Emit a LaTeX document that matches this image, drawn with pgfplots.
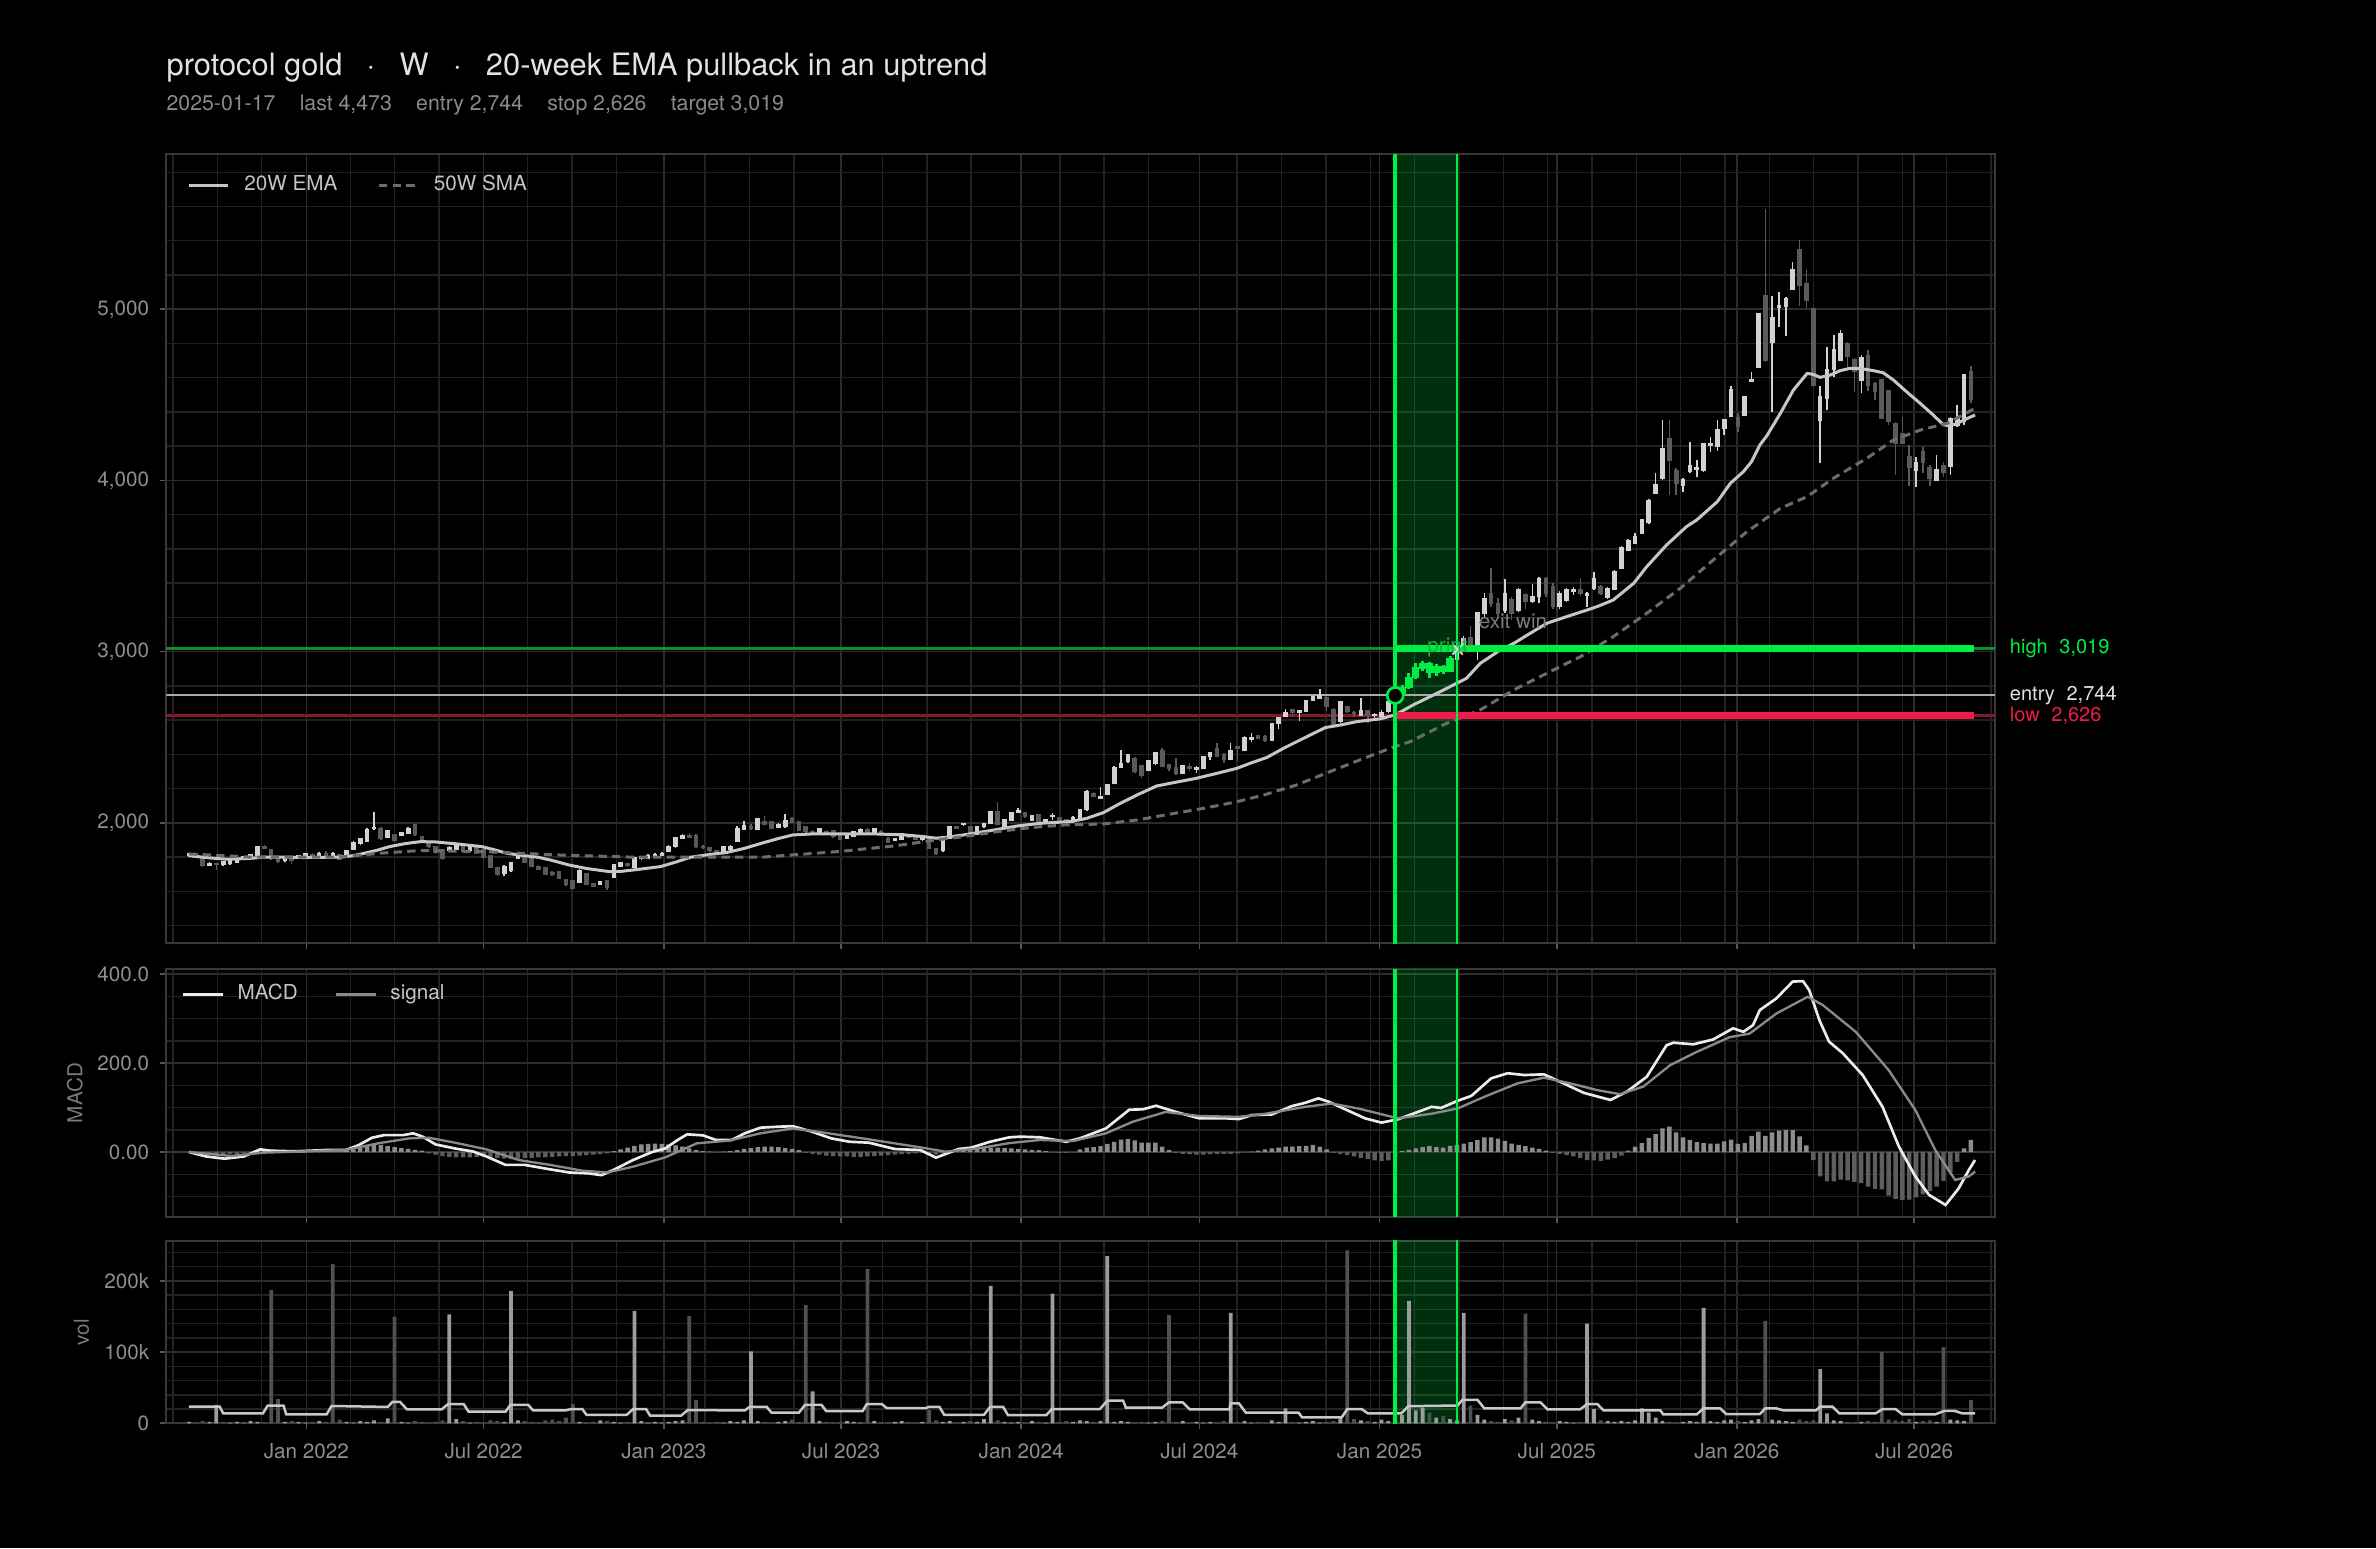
\documentclass[border=0pt]{standalone}
\usepackage{fontspec}
\setmainfont{TeX Gyre Heros}
\usepackage{pgfplots}
\pgfplotsset{compat=1.18}
\usepackage{pgfplotstable}
\definecolor{framec}{HTML}{383838}
\definecolor{gridmaj}{HTML}{2C2C2C}
\definecolor{gridmin}{HTML}{222222}
\definecolor{tickc}{HTML}{555555}
\definecolor{labc}{HTML}{8E8E8E}
\definecolor{titc}{HTML}{E2E2E2}
\definecolor{subc}{HTML}{8A8A8A}
\definecolor{legc}{HTML}{C4C4C4}
\definecolor{upc}{HTML}{D2D2D2}
\definecolor{dnc}{HTML}{5A5A5A}
\definecolor{emac}{HTML}{C6C6C6}
\definecolor{smac}{HTML}{6C6C6C}
\definecolor{grn}{HTML}{00EE44}
\definecolor{grnthin}{HTML}{0C8F2C}
\definecolor{redc}{HTML}{F01A48}
\definecolor{redthin}{HTML}{8C1428}
\definecolor{entc}{HTML}{AAAAAA}
\definecolor{printc}{HTML}{18B040}
\definecolor{exitc}{HTML}{7A7A7A}
\definecolor{macdc}{HTML}{EBEBEB}
\definecolor{sigc}{HTML}{8A8A8A}
\definecolor{histp}{HTML}{8C8C8C}
\definecolor{histn}{HTML}{5E5E5E}
\definecolor{volup}{HTML}{9C9C9C}
\definecolor{voldn}{HTML}{505050}
\definecolor{volma}{HTML}{C8C8C8}
\definecolor{ylabc}{HTML}{7A7A7A}

\pgfplotsset{
  wickp/.style 2 args={forget plot, mark=none, draw=#1, line width=#2, -,
    quiver={u=0, v={\thisrow{h}-\thisrow{l}}, every arrow/.append style={draw=#1, line width=#2, -}}},
  bodyp/.style 2 args={forget plot, mark=none, draw=#1, line width=#2, -,
    quiver={u=0, v={abs(\thisrow{c}-\thisrow{o})+8}, every arrow/.append style={draw=#1, line width=#2, -}}},
  base/.style={
    scale only axis, width=548.58pt, xmin=-21.3, xmax=245.5,
    axis background/.style={fill=black},
    axis line style={draw=framec, line width=0.5pt},
    grid=both,
    major grid style={draw=gridmaj, line width=0.45pt},
    minor grid style={draw=gridmin, line width=0.45pt},
    xtick={-0.857,25,51.29,77.14,103.43,129.43,155.71,181.57,207.86,233.71},
    minor xtick={-20.33,-13.86,-7.39,5.55,12.02,18.49,31.43,37.90,44.37,57.31,63.78,70.25,83.19,89.66,96.13,109.07,115.54,122.01,134.95,141.42,147.89,154.36,160.83,167.30,173.77,180.24,186.71,193.18,199.65,206.12,212.59,219.06,225.53,232.00,238.47,244.94},
    tick align=outside, major tick length=1.8pt, minor tick length=0pt,
    tick style={draw=tickc, line width=0.5pt},
    xtick pos=left, ytick pos=left,
    /pgf/number format/assume math mode=true,
    ticklabel style={font=\fontsize{6.2}{7}\selectfont, text=labc},
    yticklabel style={xshift=0.2pt},
    xticklabel style={yshift=-0.6pt},
    every axis y label/.style={at={(axis description cs:-0.05,0.5)}, rotate=90, anchor=center, font=\fontsize{6.2}{7}\selectfont, text=ylabc},
    clip mode=individual,
  },
}

\pgfplotstableread[row sep=\\]{w o h l c u\\
-18 1808 1826 1800 1818 1\\ -17 1818 1822 1795 1800 0\\ -16 1795 1800 1742 1750 0\\ -15 1752 1770 1745 1762 1\\
-14 1762 1768 1722 1756 0\\ -13 1756 1775 1750 1770 1\\ -12 1762 1790 1752 1778 1\\ -11 1772 1800 1765 1795 1\\
-10 1793 1808 1785 1800 1\\ -9 1790 1818 1785 1812 1\\ -8 1812 1865 1808 1860 1\\ -7 1860 1872 1845 1852 0\\
-6 1840 1845 1785 1790 0\\ -5 1790 1800 1768 1775 0\\ -4 1778 1798 1770 1792 1\\ -3 1795 1803 1760 1780 0\\
-2 1795 1810 1790 1805 1\\ -1 1803 1825 1798 1820 1\\ 0 1815 1825 1800 1805 0\\ 1 1800 1828 1795 1818 1\\
2 1820 1835 1805 1810 0\\ 3 1808 1830 1800 1822 1\\ 4 1815 1820 1782 1788 0\\ 5 1800 1842 1795 1838 1\\
6 1845 1892 1840 1885 1\\ 7 1880 1912 1870 1908 1\\ 8 1890 1968 1885 1958 1\\ 9 1965 2065 1955 1972 1\\
10 1968 1975 1900 1910 0\\ 11 1918 1960 1912 1952 1\\ 12 1930 1935 1890 1900 0\\ 13 1925 1948 1920 1940 1\\
14 1940 1975 1935 1968 1\\ 15 1988 1995 1925 1930 0\\ 16 1918 1925 1880 1890 0\\ 17 1890 1895 1855 1862 0\\
18 1860 1865 1820 1825 0\\ 19 1840 1845 1785 1790 0\\ 20 1842 1862 1836 1855 1\\ 21 1845 1872 1840 1865 1\\
22 1860 1870 1830 1835 0\\ 23 1840 1868 1830 1860 1\\ 24 1858 1862 1815 1822 0\\ 25 1840 1845 1790 1800 0\\
26 1805 1810 1735 1740 0\\ 27 1735 1740 1690 1700 0\\ 28 1705 1755 1690 1745 1\\ 29 1720 1770 1715 1765 1\\
30 1795 1830 1790 1822 1\\ 31 1805 1810 1765 1770 0\\ 32 1790 1795 1740 1745 0\\ 33 1745 1752 1722 1730 0\\
34 1735 1740 1695 1700 0\\ 35 1710 1718 1690 1698 0\\ 36 1715 1720 1670 1678 0\\ 37 1665 1672 1632 1640 0\\
38 1660 1665 1610 1618 0\\ 39 1655 1730 1650 1722 1\\ 40 1700 1705 1635 1640 0\\ 41 1645 1650 1622 1630 0\\
42 1640 1662 1635 1657 1\\ 43 1660 1665 1605 1625 0\\ 44 1680 1760 1675 1755 1\\ 45 1748 1772 1740 1765 1\\
46 1760 1768 1742 1750 0\\ 47 1740 1800 1735 1795 1\\ 48 1790 1808 1780 1800 1\\ 49 1795 1815 1788 1805 1\\
50 1808 1825 1800 1815 1\\ 51 1812 1828 1805 1820 1\\ 52 1835 1868 1830 1862 1\\ 53 1860 1918 1855 1912 1\\
54 1910 1932 1905 1925 1\\ 55 1925 1940 1910 1918 0\\ 56 1922 1932 1855 1862 0\\ 57 1860 1868 1848 1858 0\\
58 1852 1858 1832 1838 0\\ 59 1835 1840 1815 1822 0\\ 60 1822 1865 1815 1860 1\\ 61 1845 1870 1840 1862 1\\
62 1890 1980 1885 1968 1\\ 63 1960 2010 1955 1985 1\\ 64 1980 1990 1958 1965 0\\ 65 1960 2030 1955 2025 1\\
66 2005 2040 1985 1990 0\\ 67 2005 2010 1962 1968 0\\ 68 1975 1998 1968 1990 1\\ 69 1978 2050 1972 2015 1\\
70 2025 2035 2000 2005 0\\ 71 2005 2010 1950 1958 0\\ 72 1975 1980 1942 1950 0\\ 73 1948 1955 1935 1940 0\\
74 1942 1970 1935 1965 1\\ 75 1950 1955 1940 1945 0\\ 76 1955 1960 1910 1920 0\\ 77 1925 1930 1900 1905 0\\
78 1910 1930 1905 1925 1\\ 79 1920 1952 1915 1948 1\\ 80 1945 1968 1940 1962 1\\ 81 1960 1968 1938 1945 0\\
82 1940 1972 1935 1965 1\\ 83 1950 1955 1925 1935 0\\ 84 1910 1915 1880 1885 0\\ 85 1900 1910 1895 1905 1\\
86 1905 1940 1900 1935 1\\ 87 1930 1935 1910 1915 0\\ 88 1915 1922 1898 1905 0\\ 89 1902 1930 1895 1925 1\\
90 1910 1915 1845 1850 0\\ 91 1850 1855 1812 1822 0\\ 92 1837 1925 1830 1919 1\\ 93 1910 1982 1905 1977 1\\
94 1977 1980 1962 1968 0\\ 95 1992 2001 1980 1996 1\\ 96 1977 1980 1935 1938 0\\ 97 1935 1980 1930 1977 1\\
98 1977 2001 1972 1997 1\\ 99 1997 2070 1990 2065 1\\ 100 2065 2123 1985 1990 0\\ 101 1972 2020 1968 2016 1\\
102 2016 2062 2012 2059 1\\ 103 2060 2084 2055 2068 1\\ 104 2059 2065 2030 2036 0\\ 105 2016 2048 2010 2044 1\\
106 2049 2052 2000 2006 0\\ 107 2010 2025 2003 2020 1\\ 108 2035 2055 2016 2040 1\\ 109 2030 2035 2010 2016 0\\
110 2016 2020 1995 2000 0\\ 111 2006 2038 2000 2032 1\\ 112 2025 2082 2020 2078 1\\ 113 2078 2190 2070 2182 1\\
114 2172 2178 2148 2153 0\\ 115 2142 2210 2140 2152 1\\ 116 2168 2225 2162 2220 1\\ 117 2230 2330 2225 2324 1\\
118 2322 2425 2318 2347 1\\ 119 2357 2400 2352 2396 1\\ 120 2377 2382 2290 2299 0\\ 121 2332 2336 2262 2279 0\\
122 2308 2366 2300 2361 1\\ 123 2347 2415 2340 2410 1\\ 124 2420 2435 2325 2332 0\\ 125 2338 2342 2300 2318 0\\
126 2324 2376 2280 2289 0\\ 127 2289 2336 2285 2332 1\\ 128 2328 2347 2305 2318 0\\ 129 2312 2332 2293 2320 1\\
130 2318 2390 2312 2386 1\\ 131 2386 2415 2367 2410 1\\ 132 2430 2464 2386 2390 0\\ 133 2396 2410 2351 2371 0\\
134 2371 2468 2367 2420 1\\ 135 2444 2450 2363 2435 0\\ 136 2425 2505 2420 2500 1\\ 137 2490 2522 2474 2500 1\\
138 2506 2512 2488 2494 0\\ 139 2503 2513 2474 2484 0\\ 140 2484 2582 2480 2577 1\\ 141 2581 2620 2546 2616 1\\
142 2624 2663 2620 2643 1\\ 143 2659 2663 2620 2644 0\\ 144 2644 2655 2595 2653 1\\ 145 2649 2718 2645 2713 1\\
146 2718 2740 2712 2737 1\\ 147 2727 2779 2722 2740 1\\ 148 2733 2738 2655 2682 0\\ 149 2663 2668 2565 2571 0\\
150 2590 2712 2585 2706 1\\ 151 2678 2682 2642 2649 0\\ 152 2645 2655 2616 2640 0\\ 153 2630 2727 2624 2655 1\\
154 2653 2659 2585 2630 0\\ 155 2625 2640 2615 2632 1\\ 156 2624 2659 2600 2643 1\\ 157 2649 2712 2640 2708 1\\
158 2708 2760 2700 2744 1\\
167 2955 3020 2945 3010 1\\ 168 3020 3090 3010 3075 1\\ 169 3080 3150 3030 3040 0\\ 170 3030 3230 2950 3225 1\\
171 3224 3340 3204 3311 1\\ 172 3340 3486 3262 3282 0\\ 173 3282 3311 3194 3224 0\\ 174 3243 3424 3224 3340 1\\
175 3301 3321 3185 3224 0\\ 176 3243 3370 3230 3360 1\\ 177 3330 3345 3250 3292 0\\ 178 3292 3395 3282 3321 1\\
179 3321 3438 3286 3428 1\\ 180 3428 3438 3320 3340 0\\ 181 3380 3400 3250 3263 0\\ 182 3263 3355 3250 3340 1\\
183 3301 3370 3290 3360 1\\ 184 3350 3378 3330 3360 1\\ 185 3360 3430 3325 3340 0\\ 186 3330 3350 3263 3340 1\\
187 3370 3467 3360 3428 1\\ 188 3380 3390 3330 3340 0\\ 189 3320 3380 3310 3370 1\\ 190 3364 3475 3360 3467 1\\
191 3486 3615 3480 3609 1\\ 192 3593 3660 3590 3648 1\\ 193 3632 3690 3628 3671 1\\ 194 3691 3775 3685 3769 1\\
195 3753 3890 3748 3882 1\\ 196 3924 4041 3920 3973 1\\ 197 4012 4353 4000 4187 1\\ 198 4246 4353 3915 4119 0\\
199 4057 4070 3915 3983 0\\ 200 3973 4012 3934 4002 1\\ 201 4051 4226 4045 4084 1\\ 202 4065 4119 4018 4076 1\\
203 4057 4220 4050 4216 1\\ 204 4207 4255 4168 4214 1\\ 205 4201 4353 4174 4294 1\\ 206 4304 4360 4265 4357 1\\
207 4372 4551 4370 4532 1\\ 208 4368 4396 4285 4314 0\\ 209 4382 4495 4380 4489 1\\ 210 4577 4635 4572 4587 1\\
211 4660 4980 4655 4972 1\\ 212 5077 5583 4693 4703 0\\ 213 4804 5077 4401 4950 1\\ 214 5011 5102 4894 5019 1\\
215 5019 5073 4843 5063 1\\ 216 5116 5278 5110 5229 1\\ 217 5346 5404 5019 5141 0\\ 218 5151 5229 5005 5050 0\\
219 5005 5015 4547 4557 0\\ 220 4349 4551 4100 4489 1\\ 221 4479 4781 4411 4649 1\\ 222 4649 4849 4606 4762 1\\
223 4703 4879 4700 4855 1\\ 224 4797 4810 4655 4723 0\\ 225 4703 4713 4518 4635 0\\ 226 4586 4733 4508 4719 1\\
227 4727 4762 4524 4557 0\\ 228 4563 4577 4470 4518 0\\ 229 4586 4590 4360 4362 0\\ 230 4524 4528 4324 4343 0\\
231 4333 4343 4031 4216 0\\ 232 4275 4372 4216 4216 0\\ 233 4139 4207 3967 4076 0\\ 234 4057 4139 3963 4103 1\\
235 4168 4197 4041 4104 0\\ 236 4076 4090 3967 4012 0\\ 237 4002 4148 4002 4065 1\\ 238 4084 4110 4022 4045 0\\
239 4080 4372 4031 4362 1\\ 240 4324 4440 4314 4367 1\\ 241 4343 4620 4324 4620 1\\ 242 4635 4668 4450 4473 0\\
}\candles

\pgfplotstableread[row sep=\\]{w o h l c\\
159 2744 2805 2738 2790\\ 160 2790 2873 2780 2850\\ 161 2850 2931 2840 2905\\ 162 2905 2945 2885 2930\\
163 2930 2940 2845 2880\\ 164 2880 2925 2860 2910\\ 165 2910 2922 2870 2885\\ 166 2885 2975 2880 2960\\
}\trade

\pgfplotstableread[row sep=\\]{w v\\
-18 -1\\ -17 -2\\ -16 -4\\ -15 -5\\ -14 -6\\ -13 -6\\ -12 -5\\ -11 -4\\ -10 -3\\ -9 -1\\ -8 2\\ -7 4\\ -6 5\\ -5 4\\ -4 2\\ -3 1\\ -2 0\\ -1 1\\
0 1\\ 1 0\\ 2 -1\\ 3 0\\ 4 1\\ 5 2\\ 6 6\\ 7 11\\ 8 15\\ 9 18\\ 10 16\\ 11 13\\ 12 11\\ 13 9\\ 14 7\\ 15 5\\ 16 3\\ 17 -3\\ 18 -6\\ 19 -9\\
20 -11\\ 21 -12\\ 22 -12\\ 23 -12\\ 24 -11\\ 25 -10\\ 26 -12\\ 27 -14\\ 28 -15\\ 29 -16\\ 30 -15\\ 31 -14\\ 32 -13\\ 33 -12\\ 34 -12\\ 35 -11\\ 36 -10\\ 37 -9\\ 38 -9\\ 39 -8\\
40 -7\\ 41 -6\\ 42 -5\\ 43 -3\\ 44 2\\ 45 6\\ 46 10\\ 47 14\\ 48 17\\ 49 18\\ 50 19\\ 51 18\\ 52 17\\ 53 15\\ 54 12\\ 55 8\\ 56 4\\ 57 2\\ 58 1\\ 59 0\\
60 1\\ 61 2\\ 62 4\\ 63 7\\ 64 9\\ 65 11\\ 66 12\\ 67 12\\ 68 11\\ 69 9\\ 70 7\\ 71 4\\ 72 -2\\ 73 -4\\ 74 -6\\ 75 -8\\ 76 -9\\ 77 -10\\ 78 -10\\ 79 -11\\
80 -11\\ 81 -10\\ 82 -9\\ 83 -8\\ 84 -7\\ 85 -6\\ 86 -5\\ 87 -4\\ 88 -3\\ 89 -2\\ 90 -4\\ 91 -6\\ 92 -3\\ 93 2\\ 94 4\\ 95 6\\ 96 7\\ 97 8\\ 98 9\\ 99 10\\
100 10\\ 101 9\\ 102 8\\ 103 7\\ 104 6\\ 105 5\\ 106 4\\ 107 2\\ 108 0\\ 109 -2\\ 110 -2\\ 111 -1\\ 112 6\\ 113 10\\ 114 11\\ 115 13\\ 116 18\\ 117 23\\ 118 28\\ 119 29\\
120 26\\ 121 21\\ 122 21\\ 123 21\\ 124 12\\ 125 5\\ 126 -2\\ 127 -4\\ 128 -5\\ 129 -6\\ 130 -6\\ 131 -5\\ 132 -5\\ 133 -4\\ 134 -4\\ 135 -3\\ 136 -1\\ 137 1\\ 138 3\\ 139 6\\
140 8\\ 141 10\\ 142 12\\ 143 12\\ 144 13\\ 145 14\\ 146 16\\ 147 12\\ 148 6\\ 149 -2\\ 150 -4\\ 151 -7\\ 152 -10\\ 153 -13\\ 154 -16\\ 155 -19\\ 156 -20\\ 157 -19\\ 158 -8\\ 159 2\\
160 5\\ 161 8\\ 162 11\\ 163 13\\ 164 11\\ 165 10\\ 166 14\\ 167 16\\ 168 19\\ 169 22\\ 170 27\\ 171 33\\ 172 33\\ 173 30\\ 174 25\\ 175 19\\ 176 16\\ 177 13\\ 178 10\\ 179 7\\
180 3\\ 181 -2\\ 182 -4\\ 183 -7\\ 184 -10\\ 185 -14\\ 186 -18\\ 187 -19\\ 188 -20\\ 189 -17\\ 190 -14\\ 191 -8\\ 192 3\\ 193 12\\ 194 20\\ 195 32\\ 196 40\\ 197 53\\ 198 57\\ 199 44\\
200 33\\ 201 27\\ 202 22\\ 203 20\\ 204 19\\ 205 19\\ 206 24\\ 207 28\\ 208 18\\ 209 20\\ 210 36\\ 211 46\\ 212 36\\ 213 44\\ 214 48\\ 215 49\\ 216 49\\ 217 35\\ 218 15\\ 219 -18\\
220 -55\\ 221 -66\\ 222 -66\\ 223 -62\\ 224 -64\\ 225 -67\\ 226 -70\\ 227 -78\\ 228 -83\\ 229 -84\\ 230 -98\\ 231 -106\\ 232 -108\\ 233 -107\\ 234 -102\\ 235 -95\\ 236 -88\\ 237 -78\\ 238 -65\\ 239 -46\\
240 -22\\ 241 8\\ 242 27\\
}\hist

\pgfplotstableread[row sep=\\]{w v u\\
-18 2 1\\ -17 1 0\\ -16 3 0\\ -15 2 1\\ -14 26 1\\ -13 2 0\\ -12 1 1\\ -11 2 1\\ -10 1 1\\ -9 3 1\\ -8 2 1\\ -7 1 0\\ -6 187 0\\ -5 34 0\\ -4 2 1\\ -3 3 0\\ -2 2 1\\ -1 1 1\\
0 2 0\\ 1 3 1\\ 2 2 0\\ 3 224 0\\ 4 5 0\\ 5 2 1\\ 6 1 1\\ 7 3 1\\ 8 2 1\\ 9 4 1\\ 10 2 0\\ 11 7 1\\ 12 150 0\\ 13 2 1\\ 14 1 1\\ 15 3 0\\ 16 2 0\\ 17 1 0\\ 18 2 0\\ 19 4 0\\
20 153 1\\ 21 6 1\\ 22 3 0\\ 23 1 1\\ 24 2 0\\ 25 1 0\\ 26 4 0\\ 27 3 0\\ 28 2 1\\ 29 186 1\\ 30 4 1\\ 31 3 0\\ 32 2 0\\ 33 1 0\\ 34 4 0\\ 35 5 0\\ 36 3 0\\ 37 8 0\\ 38 27 0\\ 39 2 1\\
40 1 0\\ 41 2 0\\ 42 4 1\\ 43 3 0\\ 44 2 1\\ 45 1 1\\ 46 2 0\\ 47 158 1\\ 48 3 1\\ 49 1 1\\ 50 2 1\\ 51 1 1\\ 52 2 1\\ 53 3 1\\ 54 4 1\\ 55 151 0\\ 56 33 0\\ 57 2 0\\ 58 1 0\\ 59 2 0\\
60 1 1\\ 61 3 1\\ 62 2 1\\ 63 4 1\\ 64 101 1\\ 65 3 1\\ 66 2 0\\ 67 1 0\\ 68 2 1\\ 69 3 1\\ 70 5 0\\ 71 2 0\\ 72 166 0\\ 73 45 1\\ 74 3 1\\ 75 2 0\\ 76 1 0\\ 77 2 0\\ 78 3 1\\ 79 2 1\\
80 1 1\\ 81 217 0\\ 82 3 1\\ 83 2 0\\ 84 1 0\\ 85 2 1\\ 86 3 1\\ 87 2 0\\ 88 1 0\\ 89 2 1\\ 90 19 0\\ 91 4 0\\ 92 2 1\\ 93 3 1\\ 94 1 0\\ 95 2 1\\ 96 3 0\\ 97 2 1\\ 98 6 1\\ 99 193 1\\
100 4 0\\ 101 2 1\\ 102 1 1\\ 103 2 1\\ 104 1 0\\ 105 3 1\\ 106 2 0\\ 107 1 1\\ 108 182 1\\ 109 2 0\\ 110 3 0\\ 111 2 1\\ 112 4 1\\ 113 3 1\\ 114 2 0\\ 115 3 1\\ 116 235 1\\ 117 2 1\\ 118 3 1\\ 119 2 1\\
120 1 0\\ 121 2 0\\ 122 1 1\\ 123 2 1\\ 124 3 0\\ 125 152 0\\ 126 2 0\\ 127 3 1\\ 128 1 0\\ 129 2 1\\ 130 1 1\\ 131 2 1\\ 132 1 0\\ 133 3 0\\ 134 155 1\\ 135 2 0\\ 136 3 1\\ 137 1 1\\ 138 2 0\\ 139 1 0\\
140 4 1\\ 141 2 1\\ 142 21 1\\ 143 2 0\\ 144 1 1\\ 145 2 1\\ 146 3 1\\ 147 1 1\\ 148 2 0\\ 149 3 0\\ 150 8 1\\ 151 243 0\\ 152 6 0\\ 153 4 1\\ 154 3 0\\ 155 2 1\\ 156 5 1\\ 157 3 1\\ 158 4 1\\ 159 12 1\\
160 172 1\\ 161 18 1\\ 162 22 1\\ 163 15 0\\ 164 8 1\\ 165 10 0\\ 166 6 1\\ 167 4 1\\ 168 155 1\\ 169 25 0\\ 170 12 1\\ 171 5 1\\ 172 3 0\\ 173 2 0\\ 174 6 1\\ 175 4 0\\ 176 8 1\\ 177 154 0\\ 178 5 1\\ 179 3 1\\
180 2 0\\ 181 1 0\\ 182 3 1\\ 183 2 1\\ 184 1 1\\ 185 2 0\\ 186 140 1\\ 187 20 1\\ 188 4 0\\ 189 3 1\\ 190 2 1\\ 191 3 1\\ 192 2 1\\ 193 4 1\\ 194 21 1\\ 195 15 1\\ 196 8 1\\ 197 3 1\\ 198 2 0\\ 199 1 0\\
200 2 1\\ 201 3 1\\ 202 2 1\\ 203 162 1\\ 204 3 1\\ 205 2 1\\ 206 4 1\\ 207 5 1\\ 208 3 0\\ 209 2 1\\ 210 4 1\\ 211 6 1\\ 212 144 0\\ 213 5 1\\ 214 4 1\\ 215 3 1\\ 216 2 1\\ 217 5 0\\ 218 3 0\\ 219 4 0\\
220 76 1\\ 221 14 1\\ 222 4 1\\ 223 3 1\\ 224 2 0\\ 225 1 0\\ 226 2 1\\ 227 3 0\\ 228 2 0\\ 229 100 0\\ 230 5 0\\ 231 4 0\\ 232 3 0\\ 233 6 0\\ 234 2 1\\ 235 3 0\\ 236 4 0\\ 237 2 1\\ 238 107 0\\ 239 5 1\\
240 4 1\\ 241 3 1\\ 242 33 0\\
}\vol

\begin{document}
\begin{tikzpicture}
\useasboundingbox (0,0) rectangle (712.8pt,464.4pt);
\fill[black] (0,0) rectangle (712.8pt,464.4pt);
\node[anchor=base west, inner sep=0pt, font=\fontsize{9.25}{10}\selectfont, text=titc] at (49.8pt,441.6pt) {protocol gold\hspace{7.3pt}·\hspace{7.3pt}W\hspace{7.3pt}·\hspace{7.3pt}20-week EMA pullback in an uptrend};
\node[anchor=base west, inner sep=0pt, font=\fontsize{6.38}{7}\selectfont, text=subc] at (49.8pt,431.2pt) {2025-01-17\hspace{7.3pt}last 4,473\hspace{7.3pt}entry 2,744\hspace{7.3pt}stop 2,626\hspace{7.3pt}target 3,019};

% ---------------- price panel ----------------
\begin{axis}[base, at={(49.89pt,181.41pt)}, anchor=south west, height=236.7pt,
  ymin=1296, ymax=5905,
  ytick={2000,3000,4000,5000}, yticklabels={{2,000},{3,000},{4,000},{5,000}},
  minor ytick={1400,1600,1800,2200,2400,2600,2800,3200,3400,3600,3800,4200,4400,4600,4800,5200,5400,5600,5800},
  xticklabels={},
  legend columns=2,
  legend image code/.code={\draw[#1] (0pt,0pt) -- (11.6pt,0pt);},
  legend style={at={(axis description cs:0,1)}, anchor=north west, xshift=6.5pt, yshift=-5.7pt,
    draw=none, fill=none, inner sep=0pt, outer sep=0pt, text=legc,
    font=\fontsize{6.2}{7}\selectfont, nodes={inner sep=0.6pt},
    /tikz/every odd column/.append style={column sep=3.8pt},
    /tikz/every even column/.append style={column sep=11.5pt}},
]
\addplot[draw=none, fill=grn, fill opacity=0.2, forget plot] coordinates {(158,1000) (167,1000) (167,7000) (158,7000)};
\addplot[grnthin, line width=1pt, forget plot] coordinates {(-30,3019) (260,3019)};
\addplot[entc, line width=0.6pt, forget plot] coordinates {(-30,2744) (260,2744)};
\addplot[redthin, line width=1pt, forget plot] coordinates {(-30,2626) (260,2626)};
% candles: wicks and bodies drawn as vertical segments
\addplot[wickp={dnc}{0.45pt}, restrict expr to domain={\thisrow{u}}{-0.5:0.5}] table[x=w, y=l] {\candles};
\addplot[bodyp={dnc}{1.4pt}, restrict expr to domain={\thisrow{u}}{-0.5:0.5}] table[x=w, y expr={min(\thisrow{o},\thisrow{c})-4}] {\candles};
\addplot[wickp={upc}{0.45pt}, restrict expr to domain={\thisrow{u}}{0.5:1.5}] table[x=w, y=l] {\candles};
\addplot[bodyp={upc}{1.4pt}, restrict expr to domain={\thisrow{u}}{0.5:1.5}] table[x=w, y expr={min(\thisrow{o},\thisrow{c})-4}] {\candles};
% EMA / SMA
\addplot[emac, line width=0.9pt] coordinates {(-18,1808) (-15,1795) (-12.5,1787) (-9,1792) (-7.3,1799) (-4,1800) (-1.4,1797) (1,1798) (3.9,1799) (6,1808) (7.6,1822) (9.5,1840) (11.3,1861) (13.5,1878) (15.8,1890) (18,1888) (21,1877) (24.7,1861) (26.5,1843) (28.4,1822) (30.5,1810) (32.9,1799) (35,1780) (37.4,1754) (40,1733) (43.3,1715) (45,1716) (47,1725) (50.8,1744) (53,1770) (55.2,1799) (58,1815) (60.4,1826) (63,1850) (65.6,1881) (68,1908) (70.1,1929) (73,1935) (76.8,1935) (82,1935) (86.5,1929) (89,1920) (91,1910) (92.6,1915) (95,1929) (98.9,1954) (102.8,1981) (106.2,1997) (110.6,2007) (113,2026) (115.4,2059) (117.9,2114) (120.3,2162) (123.2,2215) (125.6,2234) (129,2260) (132,2289) (134.9,2318) (136.8,2347) (139.3,2382) (141.7,2435) (144.6,2493) (147.8,2556) (150,2571) (152.4,2591) (155.8,2607) (158,2630) (160.7,2690) (163.1,2737) (165.5,2785) (168.4,2844) (170.4,2931) (173.3,3009) (175.3,3048) (177.7,3107) (180.1,3165) (183,3204) (186,3243) (187.4,3262) (189.8,3301) (192.8,3399) (194.7,3496) (197.6,3623) (200.5,3730) (202,3769) (205,3876) (206.9,3983) (208.8,4051) (210,4110) (211.2,4207) (212.2,4259) (214.2,4392) (216.1,4528) (218.1,4625) (219,4619) (220,4602) (221.5,4616) (222.9,4641) (224.4,4655) (226.3,4651) (227.8,4641) (229.2,4629) (230.7,4586) (232.6,4518) (234.6,4450) (236.5,4382) (238,4324) (239,4320) (240,4333) (241.2,4357) (242.6,4382)};
\addlegendentry{20W EMA}
\addplot[smac, line width=0.9pt, dash pattern=on 2.5pt off 1.6pt] coordinates {(-18,1818) (-8.8,1799) (3.9,1799) (9.8,1822) (15.8,1838) (24.7,1832) (35.9,1812) (47,1799) (58.2,1799) (65.6,1799) (76.8,1832) (85,1865) (91,1900) (95,1919) (99.9,1948) (104.7,1972) (109.6,1987) (115.4,1993) (120.3,2016) (125.2,2051) (130,2084) (134.9,2123) (138.8,2162) (143.6,2221) (148.5,2299) (153.4,2376) (158.2,2449) (160.2,2474) (165.5,2581) (170.4,2659) (175.3,2776) (180.1,2873) (185,2970) (189.8,3087) (194.7,3224) (199.6,3370) (204.4,3535) (209.3,3700) (214.2,3837) (218.1,3905) (221.9,4012) (226.8,4129) (230.7,4236) (234.6,4294) (238.5,4333) (242.6,4421)};
\addlegendentry{50W SMA}
% trade levels
\addplot[grn, line width=2pt, forget plot] coordinates {(158,3019) (242.4,3019)};
\addplot[redc, line width=2pt, forget plot] coordinates {(158,2626) (242.4,2626)};
\addplot[grn, line width=1.2pt, forget plot] coordinates {(158,1000) (158,7000)};
\addplot[grn, line width=0.8pt, forget plot] coordinates {(167,1000) (167,7000)};
% trade candles
\addplot[wickp={grn}{0.9pt}] table[x=w, y=l] {\trade};
\addplot[bodyp={grn}{2.2pt}] table[x=w, y expr={min(\thisrow{o},\thisrow{c})-4}] {\trade};
\addplot[only marks, mark=*, mark size=2.4pt, mark options={draw=grn, fill=black, line width=0.8pt}, forget plot] coordinates {(158,2744)};
\addplot[only marks, mark=x, mark size=2.2pt, mark options={draw=upc, line width=0.6pt}, forget plot] coordinates {(167.1,3013)};
\node[anchor=base west, inner sep=0pt, font=\fontsize{6.2}{7}\selectfont, text=printc] at (axis cs:162.6,2992) {print};
\node[anchor=base west, inner sep=0pt, font=\fontsize{6.2}{7}\selectfont, text=exitc] at (axis cs:170.1,3137) {exit win};
\node[anchor=west, inner sep=0pt, font=\fontsize{6}{7}\selectfont, text=grn] at (axis cs:247.6,3019) {high\hspace{3.5pt}3,019};
\node[anchor=west, inner sep=0pt, font=\fontsize{6}{7}\selectfont, text=titc] at (axis cs:247.6,2744) {entry\hspace{3.5pt}2,744};
\node[anchor=west, inner sep=0pt, font=\fontsize{6}{7}\selectfont, text=redc] at (axis cs:247.6,2626) {low\hspace{3.5pt}2,626};
\end{axis}

% ---------------- MACD panel ----------------
\begin{axis}[base, at={(49.89pt,99.39pt)}, anchor=south west, height=74.22pt,
  ymin=-145.4, ymax=410.6,
  ytick={0,200,400}, yticklabels={{0.00},{200.0},{400.0}},
  minor ytick={-100,-50,50,100,150,250,300,350},
  xticklabels={}, ylabel={MACD},
  legend columns=2,
  legend image code/.code={\draw[#1] (0pt,0pt) -- (12pt,0pt);},
  legend style={at={(axis description cs:0,1)}, anchor=north west, xshift=4.6pt, yshift=-3.9pt,
    draw=none, fill=none, inner sep=0pt, outer sep=0pt, text=legc,
    font=\fontsize{6.2}{7}\selectfont, nodes={inner sep=0.6pt},
    /tikz/every odd column/.append style={column sep=3.4pt},
    /tikz/every even column/.append style={column sep=10.5pt}},
]
\addplot[draw=none, fill=grn, fill opacity=0.2, forget plot] coordinates {(158,-1000) (167,-1000) (167,1000) (158,1000)};
\addplot[draw=framec, line width=0.6pt, forget plot] coordinates {(-30,0) (260,0)};
\addplot[ybar, bar width=0.65, bar shift=0pt, fill=histp, draw=none, forget plot, restrict y to domain=0:2000] table[x=w,y=v] {\hist};
\addplot[ybar, bar width=0.65, bar shift=0pt, fill=histn, draw=none, forget plot, restrict y to domain=-2000:0] table[x=w,y=v] {\hist};
\addplot[macdc, line width=0.8pt] coordinates {(-18,0) (-15.5,-10) (-12.8,-15) (-10,-10) (-7.6,6) (-6.2,3) (-2.5,1.5) (2.1,4.5) (4.9,4.5) (6.8,15.7) (8.7,32) (10.5,38) (13.3,38) (14.7,42) (16.1,34.5) (18,17) (20.8,8) (23.5,1) (25.4,-10) (28.2,-29) (31,-29) (34.7,-39) (37.5,-46) (40.3,-48) (42.2,-52) (44,-40) (46.8,-18) (49.6,0) (51.5,8) (53.3,27) (54.7,39.7) (57,37.4) (58.9,27) (61.2,27) (63.1,42) (65.4,54.7) (68.2,57) (70.1,58) (72.9,45.7) (75.7,30.7) (78.4,23) (81.2,21) (85,6.7) (88.7,4.5) (91,-12.7) (94.3,6.7) (96.1,9.7) (98.9,23) (101.7,33) (103.3,34.5) (106.2,33) (110,23) (112,30.7) (115.8,53) (119.2,95) (121.2,96) (123.1,104) (126,90) (129.4,75.7) (133.3,75.7) (135.2,74) (137.1,83) (140,84.5) (142.9,103) (144.9,110.7) (146.8,120.5) (148.3,113) (150.7,96) (153.6,75.7) (156,66) (158.4,73.5) (161.3,90) (163.3,101.5) (164.7,99) (167.1,115) (169.1,126) (172,165.5) (174.4,177) (176.8,173) (179.7,174.5) (182.6,154) (185.5,133) (189.4,117) (191.8,135.6) (194.7,169) (197.6,240) (198.6,245.6) (201.5,242) (204.4,253) (207.3,278) (208.8,270) (210.2,285) (211.2,319) (213.6,345) (216,383) (217.5,384) (218.4,364) (219.9,296) (221.3,248) (223.3,222) (226.2,173) (229.1,101.5) (231.5,12) (233.9,-55) (235.9,-96.6) (238.3,-119) (240.2,-82) (241.7,-40.4) (242.6,-18)};
\addlegendentry{MACD}
\addplot[sigc, line width=0.7pt] coordinates {(-18,0) (-11.8,-9) (-7.2,-1.5) (-2.5,0.7) (4.9,4.5) (9.6,19.5) (14.2,30.7) (17,32) (20.8,21) (25.4,6) (30.1,-18) (34.7,-29) (39.4,-42) (43.1,-46) (46.8,-33) (51.5,-12) (56.1,19.5) (60.8,25.5) (65.4,42) (70.1,53) (74.7,43.5) (81.2,28.5) (88.7,10.5) (92.4,0.7) (97.1,8) (101.7,20) (106.2,27) (111,24.7) (115.8,42) (119.7,68) (124.5,90) (129.4,81) (135.2,79) (139.1,86) (144.9,101.5) (148.7,109) (152.6,97.8) (158.4,75.7) (163.3,86) (167.1,97.8) (171,124) (175.8,154) (179.7,167) (183.6,154) (187.5,139) (190.8,130) (194.2,147) (198.1,195) (202,225) (206.8,258) (209.7,266) (213.6,311) (218.2,349) (220.4,330) (225.2,270) (230,184) (233.9,94) (236.8,4.5) (239.7,-62.9) (241.7,-55) (242.6,-44)};
\addlegendentry{signal}
\addplot[grn, line width=1.2pt, forget plot] coordinates {(158,-1000) (158,1000)};
\addplot[grn, line width=0.8pt, forget plot] coordinates {(167,-1000) (167,1000)};
\end{axis}

% ---------------- volume panel ----------------
\begin{axis}[base, at={(49.89pt,37.41pt)}, anchor=south west, height=54.78pt,
  ymin=0, ymax=256.5,
  ytick={0,100,200}, yticklabels={0,100k,200k},
  minor ytick={20,40,60,80,120,140,160,180,220,240},
  xticklabels={Jan 2022,Jul 2022,Jan 2023,Jul 2023,Jan 2024,Jul 2024,Jan 2025,Jul 2025,Jan 2026,Jul 2026},
  ylabel={vol}, ylabel style={at={(axis description cs:-0.0464,0.5)}},
]
\addplot[draw=none, fill=grn, fill opacity=0.2, forget plot] coordinates {(158,-10) (167,-10) (167,1000) (158,1000)};
\addplot[ybar, bar width=0.55, bar shift=0pt, fill=voldn, draw=none, forget plot, restrict expr to domain={\thisrow{u}}{-0.5:0.5}] table[x=w,y=v] {\vol};
\addplot[ybar, bar width=0.55, bar shift=0pt, fill=volup, draw=none, forget plot, restrict expr to domain={\thisrow{u}}{0.5:1.5}] table[x=w,y=v] {\vol};
\addplot[volma, line width=0.75pt, forget plot] coordinates {(-18,23.3) (-13.5,23.3) (-13,14) (-7.2,14) (-6.5,25) (-4.2,25) (-3.8,12.6) (2.1,12.6) (2.8,24.3) (11,23) (11.7,30) (12.8,30) (13.8,19.7) (18.9,19.7) (19.8,27) (22.1,27) (22.8,16.3) (28.2,16.3) (28.9,26) (31.5,26) (32.2,18.3) (37,18.3) (37.8,20) (39.4,20) (40,12) (45.9,12) (46.8,20) (48.7,20) (49.3,10.7) (53.8,10.7) (54.8,18.7) (63.1,18) (63.8,23) (66.3,23) (67,15) (71,15) (71.9,26) (74.3,26) (75,17) (80.3,17) (80.9,27) (83.1,27) (83.8,21.5) (89.6,21.5) (89.9,23) (91.5,23) (92.2,12) (98,12) (98.9,23) (100.8,23) (101.5,11.6) (107.1,11.6) (107.9,20) (114.9,20) (116,31.8) (118.3,31.8) (118.7,22) (124,22) (125,29.5) (127,29.5) (128,19.7) (133.8,19.7) (134,28) (135.2,28) (136.2,15) (143.9,15) (144.4,8.5) (150.2,8.5) (151,20) (153.1,20) (154,14) (158.9,14) (159.9,24) (167.1,25) (167.8,33) (170,33) (171,21) (176.3,21) (177,29.5) (179.2,29.5) (180.2,19.7) (185,19.7) (186,27) (187.5,27) (188.4,18) (196.7,18) (197.1,12.6) (202,12.6) (203,21) (205.4,21) (206.3,13) (211.2,13) (212,21) (213.6,21) (214.6,18.3) (219.4,18.3) (220,23.4) (221.8,23.4) (222.8,14) (228.1,14) (229.1,20) (231,20) (232,12.6) (236.8,12.6) (238.1,17.3) (239.7,17.3) (240.7,14) (242.6,14)};
\addplot[grn, line width=1.2pt, forget plot] coordinates {(158,-10) (158,1000)};
\addplot[grn, line width=0.8pt, forget plot] coordinates {(167,-10) (167,1000)};
\end{axis}
\end{tikzpicture}
\end{document}
